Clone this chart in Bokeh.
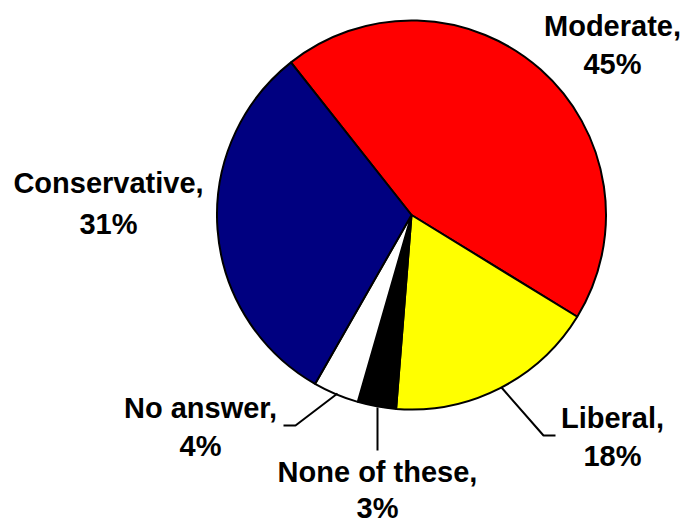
import math
from bokeh.plotting import figure
from bokeh.models import Range1d
from bokeh.core.properties import value
from bokeh.embed import file_html
from bokeh.resources import INLINE

# ---- data ----
categories = ["Moderate", "Liberal", "None of these", "No answer", "Conservative"]
shares = [44.4, 17.5, 3.2, 3.8, 31.1]
pct_labels = ["45%", "18%", "3%", "4%", "31%"]
colors = ["#FF0000", "#FFFF00", "#000000", "#FFFFFF", "#000080"]

W, H = 688, 525
p = figure(width=W, height=H, output_backend="svg", toolbar_location=None,
           x_range=Range1d(0, W), y_range=Range1d(0, H),
           min_border=0, outline_line_color=None)
p.axis.visible = False
p.grid.visible = False
p.background_fill_color = "white"

def Y(py):
    return H - py

cx, cy, r = 411, Y(214.5), 194.5
start_cw = -38.3  # degrees clockwise from 12 o'clock
total = sum(shares)
starts, ends = [], []
acc = start_cw
for s in shares:
    a0 = acc
    a1 = acc + s / total * 360.0
    starts.append(math.radians(90 - a0))
    ends.append(math.radians(90 - a1))
    acc = a1

p.wedge(x=[cx] * len(shares), y=[cy] * len(shares), radius=r,
        start_angle=starts, end_angle=ends, direction="clock",
        fill_color=colors, line_color="black", line_width=2)

# leader lines
p.line([337, 295, 283], [Y(393), Y(425), Y(425)], line_color="black", line_width=2)
p.line([377, 377], [Y(407), Y(450)], line_color="black", line_width=2)
p.line([501, 543, 555], [Y(387), Y(435), Y(435)], line_color="black", line_width=2)

label_pos = {
    "Moderate": (612, 25, 63),
    "Liberal": (612, 417, 455),
    "None of these": (377, 471, 507),
    "No answer": (200, 407, 445),
    "Conservative": (108, 182, 223),
}
xs, ys, txt = [], [], []
for c, pl in zip(categories, pct_labels):
    x, y1, y2 = label_pos[c]
    xs += [x, x]
    ys += [Y(y1), Y(y2)]
    txt += [c + ",", pl]

p.text(x=xs, y=ys, text=txt, text_align="center", text_baseline="middle",
       text_font=value("Liberation Sans"), text_font_style="bold",
       text_font_size="29px", text_color="black")

open("out.html", "w").write(file_html(p, INLINE))
